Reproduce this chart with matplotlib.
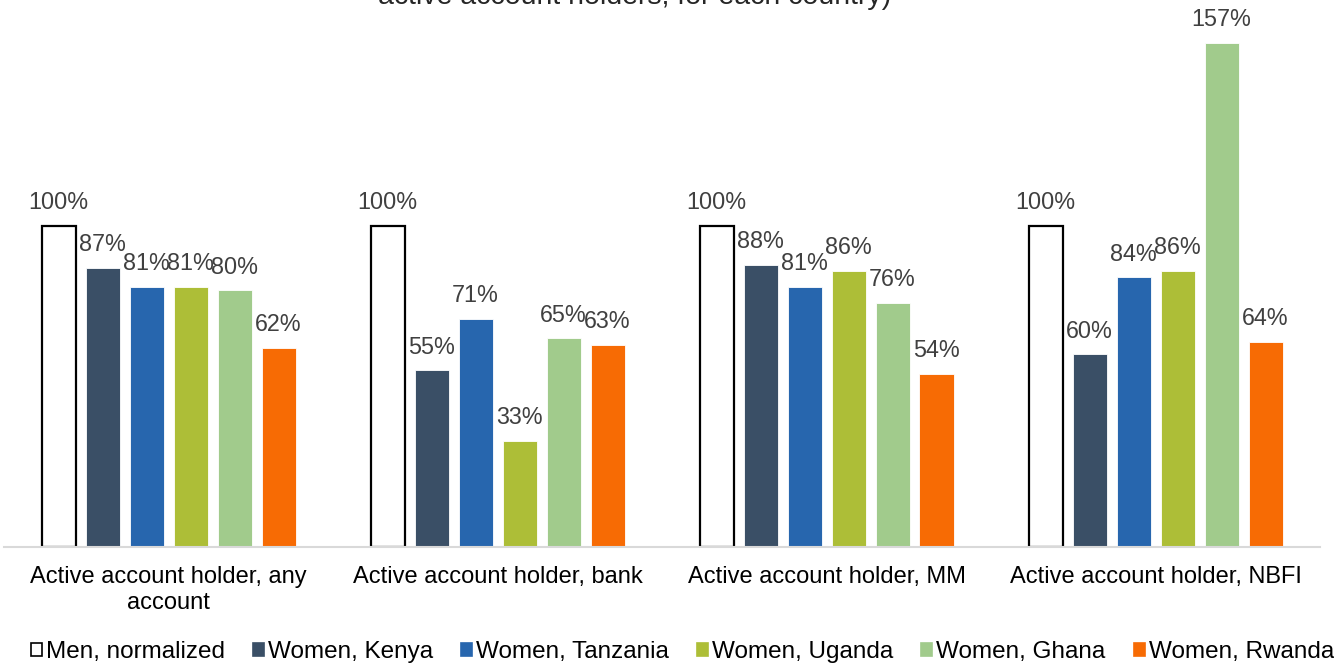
import numpy as np
import matplotlib.pyplot as plt
from matplotlib.patches import Patch

plt.rcParams['font.family'] = ['Liberation Sans', 'DejaVu Sans']

categories = ['Active account holder, any\naccount',
              'Active account holder, bank',
              'Active account holder, MM',
              'Active account holder, NBFI']

series = ['Men, normalized', 'Women, Kenya', 'Women, Tanzania',
          'Women, Uganda', 'Women, Ghana', 'Women, Rwanda']

men = [100, 100, 100, 100]
kenya = [87, 55, 88, 60]
tanzania = [81, 71, 81, 84]
uganda = [81, 33, 86, 86]
ghana = [80, 65, 76, 157]
rwanda = [62, 63, 54, 64]

values = [men, kenya, tanzania, uganda, ghana, rwanda]
colors = ['white', '#3a4f66', '#2766ae', '#adbe37', '#a1cb8c', '#f76b04']

fig = plt.figure(figsize=(13.34, 6.63), dpi=100)
ax = fig.add_axes([4/1334, 116/663, 1316/1334, 547/663])

x = np.arange(len(categories))
step = 44/329
width = 34/329

for k, (name, vals, col) in enumerate(zip(series, values, colors)):
    pos = x + (k - 2.5) * step
    if k == 0:
        ax.bar(pos, vals, width, color=col, edgecolor='black', linewidth=1.6, label=name)
    else:
        ax.bar(pos, vals, width, color=col, edgecolor='white', linewidth=0.6, label=name)
    for px, v in zip(pos, vals):
        ax.annotate(f"{v}%", (px, v), xytext=(0, 12), textcoords='offset points',
                    ha='center', va='baseline', fontsize=16.8, color='#404040')

ax.set_xlim(-0.5, len(categories) - 0.5)
ax.set_ylim(0, 547/3.21)

ax.set_xticks(x)
ax.set_xticklabels(categories, fontsize=17, color='black', linespacing=1.2)
ax.tick_params(axis='x', length=0, pad=14)
ax.set_yticks([])

for s in ['top', 'right', 'left']:
    ax.spines[s].set_visible(False)
ax.spines['bottom'].set_color('#d9d9d9')
ax.spines['bottom'].set_linewidth(1.5)

handles = [Patch(facecolor=c, edgecolor='black' if i == 0 else c, linewidth=1.2)
           for i, c in enumerate(colors)]
fig.legend(handles, series, loc='center left', bbox_to_anchor=(31/1334, 1 - 652/663),
           ncol=6, frameon=False, fontsize=17.5, handlelength=0.45, handleheight=0.45,
           handletextpad=0.17, columnspacing=1.15, borderpad=0, borderaxespad=0)

fig.text(635/1334, 1 - 4/663, 'active account holders, for each country)',
         ha='center', va='baseline', fontsize=20.5, color='#262626')

fig.savefig('out.png', dpi=100)
